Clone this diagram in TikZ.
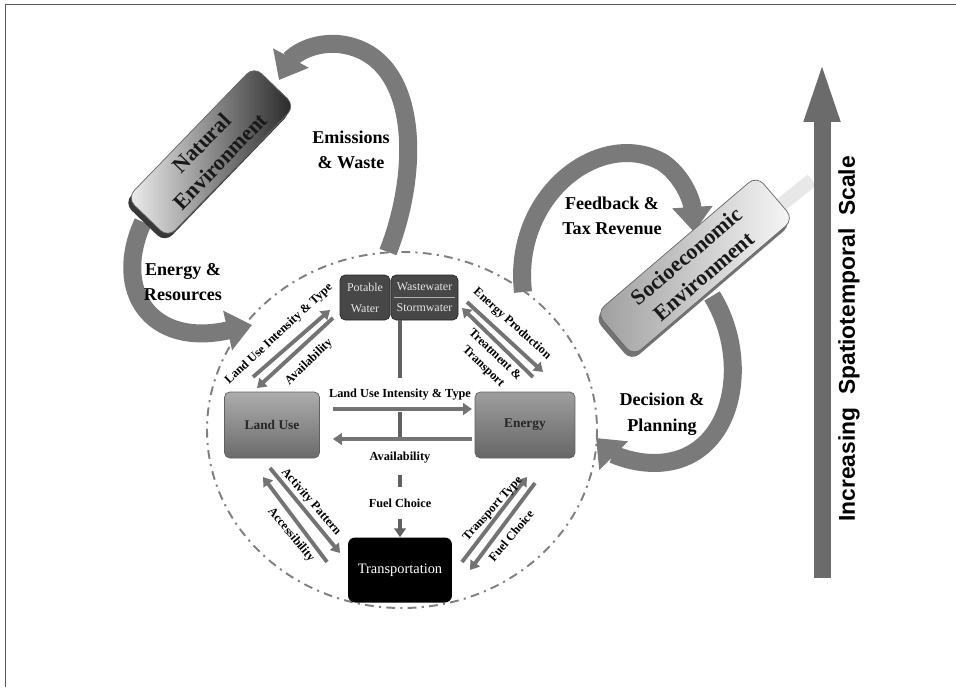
\documentclass[tikz,border=0pt]{standalone}
\usepackage{fontspec}
\setmainfont{Liberation Serif}
\newfontfamily\scalesans{Liberation Sans}
\usetikzlibrary{arrows.meta}

\tikzset{
  ring/.style={draw=black!50, line width=1.1pt, dash pattern=on 5pt off 3pt on 1.2pt off 3pt},
  cell/.style={draw=black!62, rounded corners=3pt, minimum width=1.9cm, minimum height=1.32cm,
    top color=black!32, bottom color=black!58, text=black!85, font=\fontsize{7.6}{9}\selectfont\bfseries},
  transit/.style={fill=black, rounded corners=4pt, minimum width=2.08cm, minimum height=1.3cm,
    text=white, font=\fontsize{8.2}{10}\selectfont},
  water/.style={draw=black!85, fill=black!72, rounded corners=3pt, minimum width=1cm, minimum height=0.9cm,
    inner sep=1pt, align=center, text=black!10, font=\fontsize{6.8}{12}\selectfont},
  envshape/.style={rounded corners=6pt, minimum width=3.66cm, minimum height=1.14cm, inner sep=1pt, align=center},
  envbox/.style={envshape, draw=black!60, font=\fontsize{12.5}{15}\selectfont\bfseries, text=black!90},
  swirl/.style={line width=0.36cm, black!52, -{Triangle[width=0.78cm,length=0.5cm]}},
  pipe/.style={line width=2.2pt, black!55, -{Triangle[length=5pt,width=6.5pt]}},
  vline/.style={line width=2pt, black!62},
  flow/.style={align=center, font=\fontsize{10.3}{14.5}\selectfont\bfseries},
  tag/.style={inner sep=1pt, align=center, font=\fontsize{7}{9.5}\selectfont\bfseries},
  gaptag/.style={tag, inner ysep=6.2pt},
  scalebar/.style={line width=0.34cm, black!58, -{Triangle[width=0.62cm,length=1.3cm]}},
}

\begin{document}
\begin{tikzpicture}[x=0.02cm,y=-0.02cm]
\useasboundingbox (0,0) rectangle (956,687);
\draw[black!65,line width=0.8pt] (5.5,687) -- (5.5,4.5) -- (956,4.5);
% urban system boundary
\draw[ring] (402,430) ellipse [x radius=195, y radius=178];

% outer loops
\draw[swirl] (388,252) .. controls (422,165) and (418,52) .. (338,44) .. controls (308,42) and (291,58) .. (279,80);
\draw[swirl] (143,222) .. controls (112,290) and (150,348) .. (252,325);
\draw[swirl] (523,292) .. controls (512,195) and (600,128) .. (662,162) .. controls (682,175) and (692,200) .. (694,232);
\draw[swirl] (712,296) .. controls (752,360) and (735,462) .. (655,463) .. controls (628,463) and (610,452) .. (596,438);

% environments
\draw[line width=0.28cm, black!9] (772,212) -- (812,180);
\node[envshape, rotate=46, fill=black!78] (NEs) at (208,157) {};
\node[envbox, rotate=46, left color=black!6, right color=black!85] (NE) at (211,152) {Natural\\Environment};
\node[envshape, rotate=40.5, minimum width=4.22cm, minimum height=1.14cm, fill=black!55] (SEs) at (693,271) {};
\node[envbox, rotate=40.5, minimum width=4.22cm, minimum height=1.14cm, left color=black!38, right color=black!3] (SE) at (695,266) {Socioeconomic\\Environment};

% urban subsystems
\node[cell] (LU) at (272,425) {Land Use};
\node[cell, minimum width=2cm, top color=black!38, bottom color=black!60] (EN) at (525,425) {Energy};
\node[transit] (TR) at (400,570) {Transportation};
\node[water] (PW) at (365,297.5) {Potable\\Water};
\node[water, minimum width=1.34cm] (WS) at (424.5,297.5) {Wastewater\\Stormwater};
\draw[black!30, line width=0.6pt] ([xshift=2pt]WS.west) -- ([xshift=-2pt]WS.east);

% central axis
\node[gaptag] (h1) at (400,395) {Land Use Intensity \& Type};
\node[gaptag] (h2) at (400,458) {Availability};
\node[gaptag] (fc) at (400,503) {Fuel Choice};
\draw[vline] (h1 |- WS.south) -- (h1.north);
\draw[vline] (h1.south) -- (h2.north);
\draw[vline] (h2.south) -- (fc.north);
\draw[vline, -{Triangle[length=5pt,width=6.5pt]}] (fc.south) -- (TR.north);

% interactions
\coordinate (a1) at (253,377); \coordinate (a2) at (330,310);
\coordinate (a3) at (333,318); \coordinate (a4) at (257,388);
\coordinate (b1) at (467,302); \coordinate (b2) at (543,372);
\coordinate (b3) at (533,377); \coordinate (b4) at (462,308);
\coordinate (c1) at (270,468); \coordinate (c2) at (340,553);
\coordinate (c3) at (327,562); \coordinate (c4) at (263,477);
\coordinate (d1) at (462,562); \coordinate (d2) at (527,477);
\coordinate (d3) at (535,483); \coordinate (d4) at (470,570);
\coordinate (e1) at (333,409); \coordinate (e2) at (472,409);
\coordinate (e3) at (472,439); \coordinate (e4) at (333,439);
\draw[pipe] (a1) -- (a2);
\draw[pipe] (a3) -- (a4);
\draw[pipe] (b1) -- (b2);
\draw[pipe] (b3) -- (b4);
\draw[pipe] (c1) -- (c2);
\draw[pipe] (c3) -- (c4);
\draw[pipe] (d1) -- (d2);
\draw[pipe] (d3) -- (d4);
\draw[pipe] (e1) -- (e2);
\draw[pipe] (e3) -- (e4);
\node[tag, rotate=43] (t1) at (279,334) {Land Use Intensity \& Type};
\node[tag, rotate=44] (t2) at (309,362) {Availability};
\node[tag, rotate=-42] (t3) at (512,324) {Energy Production};
\node[tag, rotate=-44] (t4) at (489,361) {Treatment \&\\Transport};
\node[tag, rotate=-49] (t5) at (311,502) {Activity Pattern};
\node[tag, rotate=-50] (t6) at (291,535) {Accessibility};
\node[tag, rotate=48] (t7) at (493,509) {Transport Type};
\node[tag, rotate=50] (t8) at (511,536) {Fuel Choice};

% loop labels
\node[flow] (ew) at (351,150) {Emissions\\\& Waste};
\node[flow] (er) at (183,282) {Energy \&\\Resources};
\node[flow] (fb) at (612,216) {Feedback \&\\Tax Revenue};
\node[flow] (dp) at (662,414) {Decision \&\\Planning};

% scale
\coordinate (sb) at (822,578);
\coordinate (st) at (822,57);
\draw[scalebar] (sb) -- (st);
\node[rotate=90, font=\scalesans\bfseries\fontsize{13}{15}\selectfont] (scl) at (849,339) {Increasing\ \ Spatiotemporal\ \ Scale};
\end{tikzpicture}
\end{document}
